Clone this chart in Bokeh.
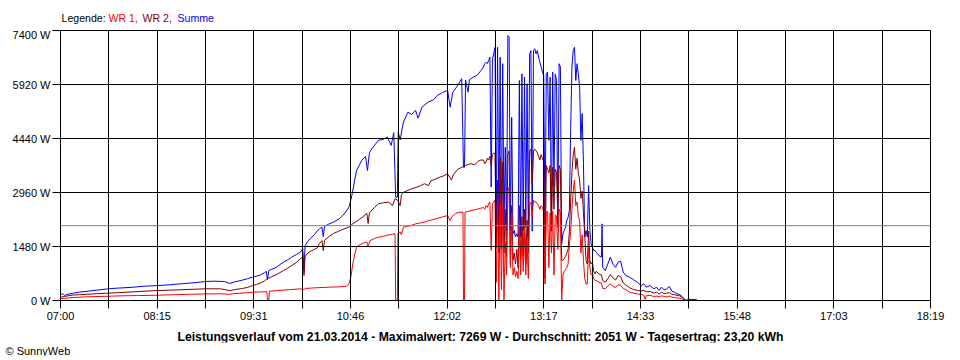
from bokeh.plotting import figure
from bokeh.layouts import column
from bokeh.models import Range1d, FixedTicker, CustomJSTickFormatter, Span, Title
from bokeh.core.properties import value
from bokeh.embed import file_html
from bokeh.resources import INLINE

FONT = "Liberation Sans"

# (minutes after 07:00, watts)
WR1 = [(0,46),(3,60),(6,70),(10,80),(15,90),(20,100),(30,110),(40,120),(50,130),(60,135),(70,140),(80,150),(90,160),(100,170),(113,180),(125,185),(132,170),(136,190),(145,210),(150,228),(156,235),(161,240),(161.5,0),(162.5,0),(163,255),(170,275),(178,295),(187,320),(190,300),(191,330),(200,350),(210,365),(218,375),(223,390),(225,450),(226.5,640),(228,1000),(229.5,1250),(231,1460),(233,1520),(236,1570),(239,1600),(240,1480),(241.5,1640),(245,1700),(248,1735),(252,1760),(255,1790),(258,1810),(261,1830),(261.5,0),(262.8,0),(263.3,1850),(265,1880),(266,1800),(267.6,2010),(270,2030),(273,2050),(277,2100),(280,2120),(284,2150),(287,2190),(290,2210),(294,2250),(298,2290),(302,2330),(304,2190),(305.5,2300),(308,2380),(311,2420),(314,2420),(314.4,0),(315.2,0),(315.6,2420),(318,2440),(321,2470),(325,2500),(328,2530),(330,2550),
       (331,2500),(332,2600),(333,2550),(334,2650),(335,2700),(336,1370),(337,2650),(338,2700),(339,2750),(340,500),(341,2600),(342,0),(343,2700),(344,300),(345,2650),(346,0),(347,1600),(348,700),(349,3000),(350,3100),(351,900),(352,2400),(353,700),(354,900),(355,650),(356,800),(357,600),(358,2000),(359,700),(360,1800),(361,800),(362,1900),(363,700),(364,1600),(365,600),(366,2650),(367,2700),(368,2300),(369,2750),(370,2700),(371,2700),(372,2650),(373,2600),(374,2500),
       (375,2600),(376,2550),(377,2450),(378,450),(379,2400),(380,2450),(381,900),(382,2400),(383,1300),(384,2450),(385,700),(386,2350),(387,2300),(388,1400),(389,2500),(390,2400),(391,0),(392,700),(393,800),(394,850),(395,900),(396,1000),(397,1500),(398,1900),(399,2500),(400,3000),(401,3300),(402,2600),(403,2700),(404,2300),(405,2200),(406,1300),(407,1800),(408,1100),(409,600),(410,450),(411,450),(412,1500),(413,900),(414,700),(415,730),(416,600),(417,550),
       (418,550),(420,500),(422,480),(423,330),(425,320),(427,400),(429,460),(431,380),(433,360),(435,430),(437,420),(439,330),(441,300),(444,230),(447,200),(450,180),(453,170),(455,150),(456,30),(457,130),(460,140),(463,110),(465,120),(467,100),(469,130),(471,110),(473,100),(475,120),(477,90),(479,80),(481,70),(483,60),(485,40),(487,10),(488,0)]

WR2 = [(0,90),(3,110),(6,130),(10,150),(15,160),(20,170),(30,190),(37,200),(45,215),(55,235),(65,255),(76,274),(90,290),(105,310),(113,320),(125,320),(132,270),(136,300),(142,330),(146,360),(150,410),(153,440),(156,480),(159,530),(161,594),(164,640),(168,700),(171,760),(174,822),(177,880),(180,950),(184,1040),(187,1142),(189,1190),(190,685),(190.8,1200),(193,1300),(195,1350),(198,1400),(200,1430),(202,1560),(204,1640),(205,1370),(206,1650),(209,1740),(213,1836),(217,1900),(221,1960),(225,2010),(228,2100),(232,2193),(236,2300),(239,2385),(240,2110),(241,2400),(243,2480),(245,2550),(248,2650),(252,2680),(256,2695),(259,2600),(261,2786),(263,2750),(265,2600),(266,2900),(268,2970),(273,3050),(278,3106),(281,3150),(284,3200),(287,3150),(289,3280),(292,3320),(296,3380),(299,3420),(302,3472),(305,3300),(306.5,3450),(310,3600),(313,3650),(316,3700),(320,3750),(323,3720),(326,3820),(328,3850),(330,3850),
       (331,3750),(332,3800),(333,3900),(334,3850),(335,3950),(336,3700),(337,4000),(338,4050),(339,4000),(340,1460),(341,3300),(342,1300),(343,3930),(344,1400),(345,3800),(346,1300),(347,2500),(348,1200),(349,4000),(350,4100),(351,1000),(352,2600),(353,1100),(354,1300),(355,1000),(356,1400),(357,900),(358,2600),(359,1100),(360,2300),(361,1200),(362,2500),(363,1000),(364,2200),(365,1300),(366,4100),(367,4150),(368,3200),(369,4100),(370,4150),(371,4100),(372,4050),(373,3950),(374,3850),
       (375,4000),(376,3900),(377,3800),(378,600),(379,3700),(380,3600),(381,3500),(382,3700),(383,1900),(384,3650),(385,2500),(386,3600),(387,3500),(388,2300),(389,3700),(390,3600),(391,1100),(392,1100),(393,1150),(394,1200),(395,1300),(396,1400),(397,1900),(398,2700),(399,3500),(400,4000),(401,4200),(402,3600),(403,3900),(404,3500),(405,3300),(406,2800),(407,3000),(408,2400),(409,1800),(410,1100),(411,1000),(412,1900),(413,1100),(414,1000),(415,1050),(416,800),(417,730),
       (418,800),(420,730),(422,700),(423,550),(425,500),(427,600),(429,710),(431,620),(433,560),(435,685),(437,650),(439,480),(441,430),(444,350),(447,300),(450,280),(453,260),(455,280),(457,240),(460,250),(463,200),(465,230),(467,180),(469,220),(471,190),(473,200),(475,220),(477,170),(479,160),(481,140),(483,130),(485,90),(487,20),(488,0)]

SUMME = [(0,150),(1.5,190),(3,140),(5,165),(10,200),(15,230),(20,250),(30,290),(37,320),(45,340),(55,360),(65,390),(76,410),(85,430),(95,460),(105,490),(113,520),(120,530),(128,520),(132,466),(136,510),(142,560),(146,600),(150,640),(156,700),(159,760),(160.5,800),(161.5,575),(162.5,820),(165,860),(168,900),(171,980),(174,1050),(177,1110),(180,1180),(184,1260),(187,1320),(189,1420),(190,820),(190.8,1500),(193,1620),(195,1700),(198,1800),(200,1900),(202,1960),(204,2010),(205,1750),(206,2030),(209,2090),(213,2146),(218,2250),(222,2400),(225,2560),(226.5,2750),(228,3000),(229.5,3300),(231,3560),(233,3700),(235,3840),(238,3950),(239.5,3560),(241,4050),(243,4170),(246,4300),(248,4390),(252,4420),(255,4480),(258,4250),(260,4600),(261.5,2830),(262.8,2830),(263.5,4620),(265,4400),(266.5,4700),(267.6,4890),(271,5160),(274,5100),(277,5210),(279,5000),(282,5300),(287,5440),(291,5500),(294,5620),(298,5700),(302,5760),(304,5300),(306,5700),(310,5900),(313,6080),(314.4,3650),(315.2,3650),(316,6040),(318,5710),(319,6050),(322,6120),(325,6170),(328,6300),(330,6400),
         (331,6490),(332,6530),(333,6490),(334,6580),(335,6670),(336,3110),(337,6620),(338,6760),(339,6940),(340,1920),(341,6940),(342,1920),(343,6670),(344,2100),(345,6490),(346,2010),(347,4200),(348,1920),(349,7260),(350,7220),(351,1920),(352,5020),(353,1830),(354,1920),(355,1740),(356,1830),(357,1740),(358,6030),(359,1740),(360,6210),(361,1920),(362,6120),(363,2010),(364,5940),(365,1740),(366,6760),(367,6850),(368,1900),(369,6850),(370,6900),(371,6760),(372,6850),(373,6670),(374,6530),
         (375,6400),(376,6260),(377,6170),(378,1920),(379,6210),(380,6260),(381,4390),(382,6120),(383,2100),(384,6260),(385,3110),(386,6210),(387,6030),(388,2010),(389,6490),(390,6400),(391,1550),(392,1830),(393,1920),(394,2010),(395,2190),(396,2280),(397,2470),(398,4660),(399,6400),(400,6850),(401,6940),(402,6030),(403,6490),(404,6210),(405,5850),(406,4390),(407,5120),(408,3750),(409,1740),(410,1920),(411,1740),(412,3150),(413,1920),(414,1550),(415,1460),(416,1370),(417,1370),
         (418,1320),(420,1230),(422,1190),(422.5,2100),(423,910),(425,820),(427,1000),(429,1190),(431,1000),(433,910),(435,1050),(437,1080),(439,780),(441,685),(444,640),(447,570),(450,500),(453,410),(455,457),(457,365),(460,410),(463,320),(465,365),(467,275),(469,365),(471,290),(473,320),(475,384),(477,256),(479,228),(481,183),(483,165),(485,110),(487,27),(488,0),(489,30),(496,30),(497,0)]

x_tick_labels = ["07:00", "08:15", "09:31", "10:46", "12:02", "13:17", "14:33", "15:48", "17:03", "18:19"]
y_tick_values = [0, 1480, 2960, 4440, 5920, 7400]
y_tick_labels = ["0 W", "1480 W", "2960 W", "4440 W", "5920 W", "7400 W"]
AVERAGE_W = 2051
legend_texts = ["Legende:", "WR 1,", "WR 2,", "Summe"]
legend_colors = ["black", "#FF0000", "#800000", "#0000FF"]
title_text = "Leistungsverlauf vom 21.03.2014 - Maximalwert: 7269 W - Durchschnitt: 2051 W - Tagesertrag: 23,20 kWh"
copyright_text = "\u00a9 SunnyWeb"

X_END = 678.75      # 07:00 .. 18:18:45
N_GRID = 18
step = X_END / N_GRID

LEFT, RIGHT = 60, 30   # frame borders shared by all stacked figures


def text_strip(height, bottom_border=0):
    # frames of stacked figures are aligned: data x == page x (60..930)
    f = figure(width=960, height=height, output_backend="svg", toolbar_location=None,
               x_range=Range1d(LEFT, 960 - RIGHT), y_range=Range1d(height - bottom_border, 0),
               min_border_left=LEFT, min_border_right=RIGHT,
               min_border_top=0, min_border_bottom=bottom_border,
               background_fill_color="white", border_fill_color="white")
    f.axis.visible = False
    f.grid.visible = False
    f.outline_line_color = None
    return f


# ---- legend strip (top) ----
top = text_strip(28)
top.text(x=[61, 108, 142, 177], y=[17, 17, 17, 17], text=legend_texts, text_color=legend_colors,
         text_font=value(FONT), text_font_size="10.6px", text_baseline="middle", text_align="left")

# ---- main chart ----
p = figure(width=960, height=302, output_backend="svg", toolbar_location=None,
           x_range=Range1d(0, X_END), y_range=Range1d(0, 7400),
           min_border_left=LEFT, min_border_right=RIGHT, min_border_top=2, min_border_bottom=30,
           background_fill_color="white", border_fill_color="white")
p.outline_line_color = "black"
p.outline_line_width = 1

xt = FixedTicker(ticks=[i * step for i in range(N_GRID + 1)])
yt = FixedTicker(ticks=y_tick_values)
p.xaxis.ticker = xt
p.yaxis.ticker = yt
p.xgrid.ticker = xt
p.ygrid.ticker = yt
p.xaxis.formatter = CustomJSTickFormatter(args=dict(labels=x_tick_labels, step=step), code="""
const i = Math.round(tick / step);
return (i % 2 == 0) ? labels[i / 2] : "";
""")
p.yaxis.formatter = CustomJSTickFormatter(args=dict(labels=y_tick_labels, step=1480), code="""
return labels[Math.round(tick / step)];
""")
for ax in (p.xaxis[0], p.yaxis[0]):
    ax.axis_line_color = "black"
    ax.major_tick_line_color = "black"
    ax.major_tick_out = 8
    ax.major_tick_in = 0
    ax.minor_tick_line_color = None
    ax.major_label_text_font = FONT
    ax.major_label_text_font_size = "11px"
    ax.major_label_text_color = "black"
p.xaxis.major_label_standoff = 1
p.yaxis.major_label_standoff = 2

for g in (p.xgrid[0], p.ygrid[0]):
    g.grid_line_color = "black"
    g.grid_line_alpha = 1.0
    g.grid_line_width = 1
    g.level = "annotation"

series = [(SUMME, "#0000FF"), (WR2, "#800000"), (WR1, "#FF0000")]
for data, color in series:
    p.line([d[0] for d in data], [d[1] for d in data], line_color=color, line_width=1)

p.add_layout(Span(location=AVERAGE_W, dimension="width", line_color="#808080", line_width=1))

# ---- footer strip (bottom): bold summary in the frame, copyright as a title below ----
bottom = text_strip(26, bottom_border=13)
bottom.text(x=[480], y=[7], text=[title_text], text_color="black",
            text_font=value(FONT), text_font_size="12.2px", text_font_style="bold",
            text_baseline="middle", text_align="center")
bottom.add_layout(Title(text=copyright_text, align="left", offset=5 - LEFT, standoff=0,
                        text_font=FONT, text_font_size="11px", text_font_style="normal",
                        text_color="black"), "below")

layout = column(top, p, bottom, spacing=0)
open("out.html", "w").write(file_html(layout, INLINE))
